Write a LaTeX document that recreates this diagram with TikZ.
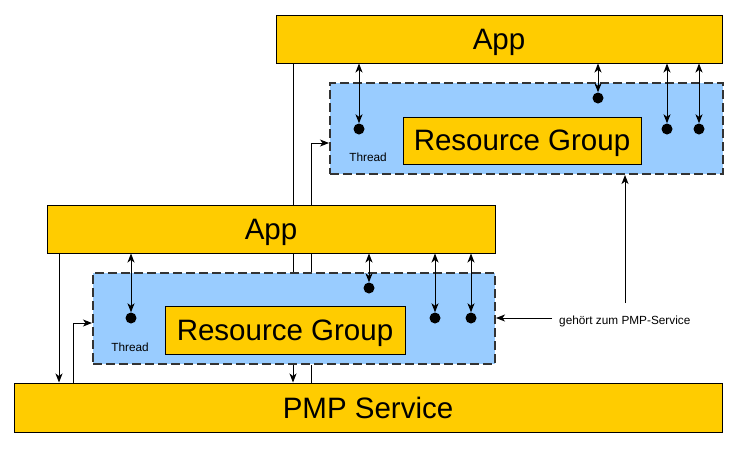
\documentclass[tikz,border=0pt]{standalone}
\usepackage{fontspec}
\setmainfont{Liberation Sans}
\usetikzlibrary{arrows.meta}
\definecolor{appfill}{HTML}{FFCC00}
\definecolor{grpfill}{HTML}{99CCFF}
\definecolor{dashc}{HTML}{333333}
\tikzset{
  ybox/.style={draw=black, line width=1pt, fill=appfill, inner sep=0pt, text depth=0pt, font=\fontsize{29.5}{33}\selectfont},
  bbox/.style={draw=dashc, line width=2pt, dash pattern=on 9pt off 4pt, fill=grpfill, inner sep=0pt},
  dot/.style={circle, fill=black, inner sep=0pt, minimum size=11pt},
  small/.style={font=\fontsize{11.8}{13}\selectfont, inner sep=0pt},
  conn/.style={line width=0.9pt, -{Stealth[length=9pt,width=7pt,inset=2.5pt]}},
  dconn/.style={line width=0.9pt, {Stealth[length=9pt,width=7pt,inset=2.5pt]}-{Stealth[length=9pt,width=7pt,inset=2.5pt]}},
  plain/.style={line width=0.9pt}
}
\begin{document}
\begin{tikzpicture}[x=1pt,y=-1pt]
\useasboundingbox (0,0) rectangle (738,448);
% coordinates for background lines
\coordinate (v1) at (293,63);
\coordinate (v2) at (311,383);
\coordinate (v2b) at (311,143);
\coordinate (w1) at (59,253);
\coordinate (w2) at (73,383);
\coordinate (w2b) at (73,323);
% boxes
\node[ybox, minimum width=708pt, minimum height=49pt] (pmp) at (368,407.5) {PMP Service};
\node[ybox, minimum width=446pt, minimum height=48pt] (topapp) at (499,39) {App};
\node[bbox, minimum width=393pt, minimum height=91pt] (topgrp) at (526.5,128.5) {};
\node[ybox, minimum width=448pt, minimum height=48pt] (lowapp) at (271,229) {App};
\node[bbox, minimum width=402pt, minimum height=91pt] (lowgrp) at (294,318.5) {};
\node[ybox, minimum width=238pt, minimum height=47pt] (toprg) at (522,140.5) {Resource Group};
\node[ybox, minimum width=240pt, minimum height=48pt] (lowrg) at (285,330) {Resource Group};
% lower left connectors
\draw[conn] (w1) -- (w1 |- pmp.north);
\draw[conn] (w2) -- (w2b) -- (w2b -| lowgrp.west);
% visible segments of long lines passing behind the boxes
\draw[plain] (v1) -- (v1 |- lowapp.north);
\draw[plain] (v1 |- lowapp.south) -- (v1 |- lowgrp.north);
\draw[conn] (v1 |- lowgrp.south) -- (v1 |- pmp.north);
\draw[conn] (v2b |- topgrp.south) -- (v2b) -- (v2b -| topgrp.west);
\draw[plain] (v2 |- topgrp.south) -- (v2 |- lowapp.north);
\draw[plain] (v2 |- lowapp.south) -- (v2 |- lowgrp.north);
\draw[plain] (v2 |- lowgrp.south) -- (v2 |- pmp.north);
% dots top
\node[dot] (t1) at (359,129) {};
\node[dot] (t2) at (598,98) {};
\node[dot] (t3) at (667,129) {};
\node[dot] (t4) at (699,129) {};
\node[small] (tthr) at (368,157) {Thread};
% dots low
\node[dot] (l1) at (131,318) {};
\node[dot] (l2) at (369,288) {};
\node[dot] (l3) at (435,318) {};
\node[dot] (l4) at (471,318) {};
\node[small] (lthr) at (130,347) {Thread};
% double arrows
\foreach \d in {t1,t2,t3,t4} \draw[dconn] (topapp.south -| \d) -- (\d.north);
\foreach \d in {l1,l2,l3,l4} \draw[dconn] (lowapp.south -| \d) -- (\d.north);
% label
\node[small, anchor=west] (lab) at (559,321) {gehört zum PMP-Service};
\coordinate (labw) at (552,318);
\draw[conn] (labw) -- (labw -| lowgrp.east);
\coordinate (labn) at (625,303);
\draw[conn] (labn) -- (labn |- topgrp.south);
\end{tikzpicture}
\end{document}
